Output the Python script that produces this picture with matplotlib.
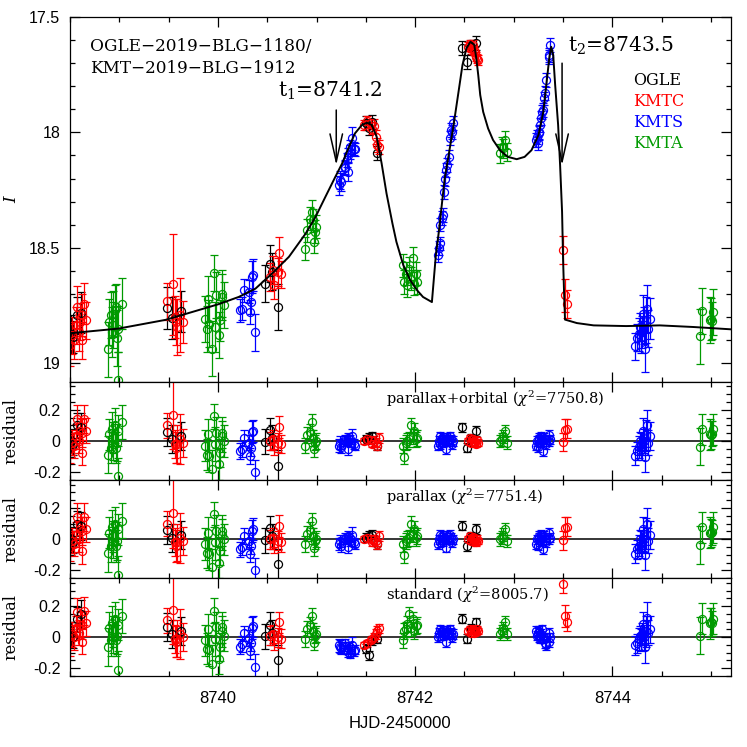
import matplotlib
matplotlib.use('Agg')
import matplotlib.pyplot as plt
from matplotlib.ticker import MultipleLocator

plt.rcParams['font.family'] = ['Liberation Sans', 'DejaVu Sans']
plt.rcParams['mathtext.fontset'] = 'dejavuserif'

# ---- model light curve ----
model_t = [8738.50, 8738.99, 8739.47, 8740.00, 8740.21, 8740.38, 8740.55, 8740.72,
           8740.89, 8740.99, 8741.09, 8741.19, 8741.26, 8741.33, 8741.39, 8741.46,
           8741.51, 8741.56, 8741.61, 8741.66, 8741.71, 8741.77, 8741.81, 8741.88,
           8741.95, 8742.02, 8742.08, 8742.17, 8742.19, 8742.21, 8742.24, 8742.27,
           8742.30, 8742.34, 8742.39, 8742.44, 8742.48, 8742.52, 8742.56, 8742.60,
           8742.62, 8742.64, 8742.66, 8742.69, 8742.74, 8742.79, 8742.86, 8742.94,
           8743.03, 8743.11, 8743.18, 8743.25, 8743.30, 8743.33, 8743.36, 8743.38,
           8743.40, 8743.42, 8743.45, 8743.47, 8743.49, 8743.50, 8743.51, 8743.52,
           8743.64, 8743.81, 8744.14, 8744.48, 8744.82, 8745.20]
model_mag = [18.870, 18.850, 18.812, 18.745, 18.713, 18.677, 18.611, 18.539,
             18.438, 18.366, 18.279, 18.193, 18.134, 18.062, 18.004, 17.968,
             17.958, 17.968, 18.019, 18.134, 18.265, 18.395, 18.474, 18.575,
             18.640, 18.684, 18.713, 18.735, 18.633, 18.532, 18.431, 18.315,
             18.199, 18.098, 17.968, 17.824, 17.708, 17.636, 17.607, 17.621,
             17.679, 17.752, 17.838, 17.911, 17.983, 18.033, 18.077, 18.106,
             18.116, 18.106, 18.077, 18.012, 17.911, 17.795, 17.679, 17.629,
             17.665, 17.795, 17.968, 18.142, 18.344, 18.546, 18.691, 18.811,
             18.826, 18.836, 18.839, 18.836, 18.843, 18.853]

# ---- OGLE ----
ogle_t = [8738.51, 8738.53, 8738.57, 8738.61, 8739.48, 8739.53, 8739.63, 8740.48,
          8740.53, 8740.55, 8740.61, 8741.50, 8741.53, 8741.56, 8741.61, 8742.48,
          8742.53, 8742.57, 8742.62]
ogle_mag = [18.872, 18.885, 18.792, 18.781, 18.761, 18.804, 18.775, 18.655,
            18.568, 18.604, 18.756, 17.960, 17.983, 17.954, 18.091, 17.633,
            17.696, 17.629, 17.614]
ogle_err = [0.08, 0.07, 0.08, 0.09, 0.09, 0.09, 0.09, 0.08,
            0.08, 0.08, 0.10, 0.03, 0.03, 0.03, 0.03, 0.03,
            0.03, 0.03, 0.03]
ogle_res = [0.00, -0.02, 0.10, 0.087, 0.058, 0.01, 0.03, -0.006,
            0.07, 0.02, -0.16, 0.01, 0.02, 0.03, -0.03, 0.087,
            -0.043, 0.015, 0.065]
ogle_res_std = [0.02, 0.00, 0.115, 0.147, 0.065, 0.02, 0.04, 0.005,
                0.08, 0.03, -0.15, -0.074, -0.116, -0.02, -0.01, 0.12,
                -0.01, 0.053, 0.095]

# ---- KMTC ----
kmtc_t = [8738.50, 8738.52, 8738.54, 8738.56, 8738.57, 8738.59, 8738.60, 8738.62, 8738.62, 8738.64, 8738.66,
          8739.48, 8739.54, 8739.56, 8739.57, 8739.58, 8739.62, 8739.65,
          8740.53, 8740.56, 8740.57, 8740.61, 8740.62, 8740.64,
          8741.48, 8741.51, 8741.55, 8741.56, 8741.58, 8741.60, 8741.61, 8741.63,
          8742.54, 8742.56, 8742.57, 8742.58, 8742.59, 8742.60, 8742.61, 8742.62, 8742.63, 8742.64,
          8743.50, 8743.52, 8743.54]
kmtc_mag = [18.922, 18.879, 18.900, 18.836, 18.756, 18.865, 18.821, 18.792, 18.900, 18.742, 18.814,
            18.732, 18.658, 18.800, 18.821, 18.843, 18.792, 18.821,
            18.626, 18.597, 18.662, 18.604, 18.522, 18.615,
            17.968, 17.950, 17.960, 17.987, 17.973, 18.019, 18.055, 18.062,
            17.629, 17.618, 17.633, 17.640, 17.621, 17.645, 17.650, 17.672, 17.680, 17.686,
            18.510, 18.706, 18.742]
kmtc_err = [0.09, 0.08, 0.08, 0.08, 0.09, 0.08, 0.08, 0.09, 0.08, 0.09, 0.08,
            0.08, 0.22, 0.09, 0.10, 0.12, 0.16, 0.09,
            0.06, 0.06, 0.06, 0.06, 0.07, 0.06,
            0.02, 0.02, 0.02, 0.02, 0.03, 0.03, 0.03, 0.03,
            0.02, 0.02, 0.02, 0.02, 0.02, 0.02, 0.02, 0.02, 0.02, 0.02,
            0.06, 0.07, 0.06]
kmtc_res = [-0.05, -0.01, -0.03, 0.03, 0.14, 0.00, 0.065, 0.054, -0.076, 0.14, 0.065,
            0.10, 0.167, -0.02, -0.043, -0.02, 0.01, -0.01,
            0.0, 0.01, -0.03, -0.01, 0.087, -0.02,
            0.0, 0.01, 0.005, -0.02, 0.0, -0.01, -0.03, 0.02,
            0.0, 0.02, -0.01, 0.01, 0.015, -0.015, -0.005, -0.02, 0.005, -0.01,
            -0.006, 0.07, 0.08]
kmtc_res_std = [-0.03, 0.02, 0.0, 0.06, 0.16, 0.03, 0.08, 0.08, -0.03, 0.17, 0.09,
                0.11, 0.175, -0.01, -0.03, -0.01, 0.02, 0.0,
                0.01, 0.02, -0.02, 0.0, 0.095, -0.01,
                -0.05, -0.04, -0.02, -0.01, 0.0, 0.02, 0.04, 0.057,
                0.04, 0.05, 0.03, 0.045, 0.05, 0.03, 0.04, 0.035, 0.05, 0.04,
                0.343, 0.137, 0.10]

# ---- KMTS ----
kmts_t = [8740.22, 8740.24, 8740.26, 8740.32, 8740.33, 8740.34, 8740.35, 8740.36, 8740.38,
          8741.23, 8741.24, 8741.25, 8741.29, 8741.29, 8741.31, 8741.32, 8741.32, 8741.34, 8741.34, 8741.36, 8741.38, 8741.39,
          8742.23, 8742.24, 8742.25, 8742.25, 8742.27, 8742.28, 8742.29, 8742.30, 8742.31, 8742.32, 8742.34, 8742.35, 8742.36, 8742.37, 8742.38,
          8743.23, 8743.24, 8743.25, 8743.26, 8743.26, 8743.27, 8743.28, 8743.29, 8743.30, 8743.31, 8743.32, 8743.33, 8743.36, 8743.36, 8743.37,
          8744.23, 8744.25, 8744.27, 8744.28, 8744.29, 8744.30, 8744.31, 8744.32, 8744.33, 8744.34, 8744.35, 8744.36, 8744.38]
kmts_mag = [18.770, 18.763, 18.684, 18.691, 18.778, 18.735, 18.626, 18.619, 18.865,
            18.229, 18.207, 18.214, 18.156, 18.149, 18.120, 18.098, 18.171, 18.062, 18.084, 18.026, 18.070, 18.074,
            18.532, 18.500, 18.481, 18.399, 18.370, 18.359, 18.258, 18.203, 18.163, 18.140, 18.106, 18.026, 17.990, 18.000, 17.961,
            18.033, 18.019, 18.048, 18.004, 17.997, 17.968, 17.939, 17.910, 17.903, 17.853, 17.831, 17.773, 17.672, 17.665, 17.621,
            18.927, 18.889, 18.875, 18.843, 18.886, 18.865, 18.785, 18.836, 18.937, 18.814, 18.763, 18.850, 18.807]
kmts_err = [0.05, 0.05, 0.05, 0.05, 0.05, 0.05, 0.07, 0.07, 0.08,
            0.04, 0.04, 0.04, 0.03, 0.03, 0.03, 0.03, 0.04, 0.03, 0.03, 0.05, 0.03, 0.03,
            0.03, 0.03, 0.03, 0.03, 0.03, 0.03, 0.03, 0.03, 0.03, 0.03, 0.03, 0.03, 0.03, 0.03, 0.03,
            0.03, 0.03, 0.03, 0.03, 0.03, 0.03, 0.03, 0.03, 0.03, 0.03, 0.03, 0.03, 0.03, 0.03, 0.03,
            0.06, 0.06, 0.07, 0.06, 0.07, 0.07, 0.08, 0.08, 0.10, 0.10, 0.10, 0.08, 0.09]
kmts_res = [-0.065, -0.05, 0.02, -0.01, -0.097, -0.043, 0.055, 0.065, -0.20,
            -0.03, -0.01, -0.04, 0.0, 0.01, 0.0, 0.02, -0.05, 0.01, -0.01, 0.03, -0.02, -0.03,
            -0.03, 0.0, -0.02, 0.03, 0.02, -0.01, 0.01, 0.0, -0.054, 0.02, 0.0, 0.03, 0.01, -0.02, 0.0,
            -0.03, 0.0, -0.04, 0.01, 0.02, -0.01, 0.03, 0.0, -0.065, 0.02, 0.01, -0.02, 0.04, 0.0, 0.01,
            -0.093, -0.065, -0.04, 0.0, -0.02, -0.05, 0.065, 0.0, -0.10, 0.037, 0.10, -0.01, 0.03]
kmts_res_std = [-0.06, -0.045, 0.025, -0.005, -0.09, -0.04, 0.06, 0.07, -0.19,
                -0.053, -0.06, -0.07, -0.04, -0.06, -0.08, -0.095, -0.07, -0.06, -0.105, -0.05, -0.09, -0.08,
                0.0, 0.03, 0.01, 0.05, 0.04, 0.01, 0.03, 0.02, -0.03, 0.04, 0.02, 0.05, 0.03, 0.0, 0.02,
                0.04, 0.01, 0.03, 0.0, 0.04, -0.01, 0.02, 0.05, -0.01, 0.0, -0.04, -0.053, -0.03, 0.03, 0.0,
                -0.053, -0.04, -0.01, 0.01, -0.02, 0.02, 0.084, 0.0, -0.063, 0.04, 0.126, 0.03, 0.05]

# ---- KMTA ----
kmta_t = [8738.89, 8738.90, 8738.92, 8738.93, 8738.94, 8738.94, 8738.96, 8738.97, 8738.98, 8738.99, 8738.99, 8739.03,
          8739.87, 8739.89, 8739.90, 8739.91, 8739.94, 8739.96, 8739.97, 8739.98, 8740.01, 8740.02, 8740.04, 8740.04, 8740.06,
          8740.88, 8740.90, 8740.93, 8740.95, 8740.96, 8740.97, 8740.98, 8740.99,
          8741.88, 8741.89, 8741.91, 8741.92, 8741.94, 8741.96, 8741.98, 8741.99, 8742.01, 8742.02,
          8742.86, 8742.88, 8742.89, 8742.91, 8742.93,
          8744.89, 8744.91, 8744.99, 8745.00, 8745.01, 8745.02]
kmta_mag = [18.940, 18.821, 18.792, 18.865, 18.836, 18.785, 18.771, 18.756, 18.890, 18.850, 19.071, 18.742,
            18.807, 18.850, 18.720, 18.828, 18.937, 18.609, 18.843, 18.706, 18.879, 18.814, 18.713, 18.698, 18.749,
            18.503, 18.424, 18.373, 18.344, 18.380, 18.474, 18.431, 18.409,
            18.575, 18.648, 18.612, 18.662, 18.590, 18.633, 18.546, 18.655, 18.612, 18.648,
            18.091, 18.062, 18.069, 18.033, 18.084,
            18.883, 18.775, 18.811, 18.808, 18.815, 18.778]
kmta_err = [0.12, 0.10, 0.10, 0.11, 0.10, 0.10, 0.11, 0.10, 0.12, 0.10, 0.12, 0.11,
            0.10, 0.10, 0.10, 0.10, 0.12, 0.08, 0.11, 0.10, 0.10, 0.09, 0.10, 0.10, 0.10,
            0.05, 0.05, 0.05, 0.05, 0.05, 0.05, 0.05, 0.05,
            0.05, 0.05, 0.05, 0.05, 0.05, 0.05, 0.05, 0.05, 0.05, 0.05,
            0.04, 0.04, 0.04, 0.04, 0.04,
            0.12, 0.10, 0.10, 0.09, 0.08, 0.10]
kmta_res = [-0.087, 0.043, -0.043, 0.076, 0.02, -0.02, 0.10, -0.043, -0.01, 0.065, -0.227, 0.12,
            -0.03, -0.087, 0.043, -0.097, -0.18, 0.16, -0.02, 0.054, -0.15, -0.076, 0.054, 0.03, 0.0,
            -0.03, 0.037, 0.06, 0.12, 0.02, -0.054, -0.01, 0.0,
            -0.03, -0.10, -0.01, 0.0, 0.01, 0.10, 0.03, 0.065, 0.01, 0.02,
            0.0, 0.01, 0.03, 0.065, -0.01,
            -0.037, 0.076, 0.043, 0.04, 0.045, 0.076]
kmta_res_std = [-0.063, 0.06, -0.02, 0.09, 0.04, 0.0, 0.12, -0.02, 0.01, 0.08, -0.21, 0.137,
                -0.02, -0.075, 0.05, -0.085, -0.17, 0.17, -0.01, 0.065, -0.14, -0.065, 0.065, 0.04, 0.01,
                -0.01, 0.055, 0.08, 0.14, 0.04, -0.035, 0.01, 0.02,
                -0.02, 0.04, 0.05, 0.084, 0.147, 0.06, 0.115, 0.04, 0.07, 0.08,
                0.02, 0.04, 0.06, 0.095, 0.02,
                0.01, 0.12, 0.09, 0.10, 0.09, 0.12]

green = '#009a00'
datasets = [
    (ogle_t, ogle_mag, ogle_err, ogle_res, ogle_res_std, 'black'),
    (kmtc_t, kmtc_mag, kmtc_err, kmtc_res, kmtc_res_std, 'red'),
    (kmts_t, kmts_mag, kmts_err, kmts_res, kmts_res_std, 'blue'),
    (kmta_t, kmta_mag, kmta_err, kmta_res, kmta_res_std, green),
]
legend_names = ['OGLE', 'KMTC', 'KMTS', 'KMTA']
legend_colors = ['black', 'red', 'blue', green]

serif = 'DejaVu Serif'
eb = dict(fmt='o', mfc='none', ms=5.8, mew=0.9, elinewidth=0.9, capsize=2.7, capthick=0.9)

fig = plt.figure(figsize=(7.47, 7.47), dpi=100)
L, W = 70 / 747, 660.7 / 747
ax0 = fig.add_axes([L, 1 - 381.7 / 747, W, 364.7 / 747])
ax1 = fig.add_axes([L, 1 - 480 / 747, W, 98.3 / 747])
ax2 = fig.add_axes([L, 1 - 578.3 / 747, W, 98.3 / 747])
ax3 = fig.add_axes([L, 1 - 676 / 747, W, 97.7 / 747])

for t, m, e, r, rs, c in datasets:
    ax0.errorbar(t, m, yerr=e, mec=c, ecolor=c, **eb)
    # parallax and parallax+orbital residuals are indistinguishable in the figure
    ax1.errorbar(t, r, yerr=e, mec=c, ecolor=c, **eb)
    ax2.errorbar(t, r, yerr=e, mec=c, ecolor=c, **eb)
    ax3.errorbar(t, rs, yerr=e, mec=c, ecolor=c, **eb)

ax0.plot(model_t, model_mag, color='black', lw=1.4, zorder=5)

for ax in (ax0, ax1, ax2, ax3):
    ax.set_xlim(8738.5, 8745.2)
    ax.xaxis.set_major_locator(MultipleLocator(2))
    ax.xaxis.set_minor_locator(MultipleLocator(0.5))
    ax.tick_params(which='both', direction='in', top=True, right=True, labelsize=11.5)
    ax.tick_params(which='major', length=7, width=0.9)
    ax.tick_params(which='minor', length=3.5, width=0.9)
    ax.tick_params(axis='y', pad=7)
    ax.tick_params(axis='x', pad=11)
    for s in ax.spines.values():
        s.set_linewidth(0.9)
    if ax is not ax3:
        ax.tick_params(labelbottom=False)

ax0.set_ylim(19.08, 17.5)
ax0.set_yticks([17.5, 18, 18.5, 19])
ax0.set_yticklabels(['17.5', '18', '18.5', '19'])
ax0.yaxis.set_minor_locator(MultipleLocator(0.1))

for ax in (ax1, ax2, ax3):
    ax.axhline(0, color='black', lw=1.1, zorder=0)
    ax.set_ylim(-0.25, 0.38)
    ax.set_yticks([-0.2, 0, 0.2])
    ax.set_yticklabels(['-0.2', '0', '0.2'])
    ax.yaxis.set_minor_locator(MultipleLocator(0.05))

ax3.set_xticks([8740, 8742, 8744])
ax3.set_xticklabels(['8740', '8742', '8744'], fontsize=12)

# labels
fig.text(400 / 747, 1 - 723 / 747, 'HJD-2450000', ha='center', va='center', fontsize=12)
fig.text(12 / 747, 1 - 200 / 747, 'I', family=serif, style='italic', rotation=90,
         ha='center', va='center', fontsize=12)
for ax in (ax1, ax2, ax3):
    ax.text(-59 / 660.7, 0.5, 'residual', transform=ax.transAxes, family=serif, rotation=90,
            ha='center', va='center', fontsize=11.5)

ax1.text(0.478, 0.83, r'parallax+orbital ($\chi^2$=7750.8)', transform=ax1.transAxes,
         family=serif, fontsize=10.5, ha='left', va='center')
ax2.text(0.478, 0.83, r'parallax ($\chi^2$=7751.4)', transform=ax2.transAxes,
         family=serif, fontsize=10.5, ha='left', va='center')
ax3.text(0.478, 0.83, r'standard ($\chi^2$=8005.7)', transform=ax3.transAxes,
         family=serif, fontsize=10.5, ha='left', va='center')

ax0.text(0.030, 0.919, 'OGLE\u22122019\u2212BLG\u22121180/', transform=ax0.transAxes,
         family=serif, fontsize=12.2, ha='left', va='center')
ax0.text(0.030, 0.859, 'KMT\u22122019\u2212BLG\u22121912', transform=ax0.transAxes,
         family=serif, fontsize=12.2, ha='left', va='center')

for i, (name, col) in enumerate(zip(legend_names, legend_colors)):
    ax0.text(0.852, 0.827 - i * 0.0575, name, color=col, transform=ax0.transAxes,
             family=serif, fontsize=11.5, ha='left', va='center')

# caustic crossing arrows
arrow = dict(arrowstyle='->, head_length=2.0, head_width=0.45', color='black', lw=1.1,
             shrinkA=0, shrinkB=0)
ax0.annotate('', xy=(8741.2, 18.142), xytext=(8741.2, 17.903), arrowprops=arrow)
ax0.annotate('', xy=(8743.49, 18.142), xytext=(8743.49, 17.70), arrowprops=arrow)
ax0.text(8740.61, 17.821, r't$_1$=8741.2', family=serif, fontsize=14.5, ha='left', va='center')
ax0.text(8743.55, 17.626, r't$_2$=8743.5', family=serif, fontsize=14.5, ha='left', va='center')

fig.savefig('out.png', dpi=100)
